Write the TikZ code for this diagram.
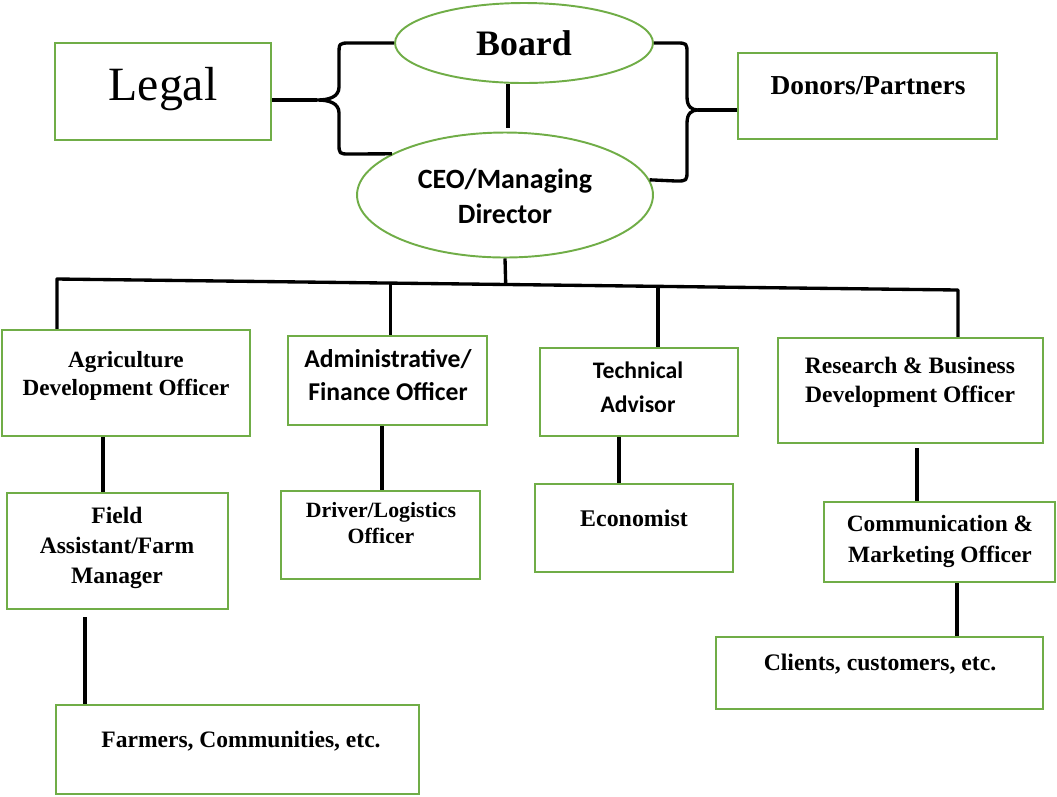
\documentclass[tikz,border=0pt]{standalone}
\usepackage{fontspec}
\setmainfont{Liberation Serif}
\newfontfamily\calfont{Carlito}
\usetikzlibrary{fit,calc,shapes.geometric}
\definecolor{boxgreen}{RGB}{112,173,71}
\begin{document}
\begin{tikzpicture}[x=0.02cm,y=-0.02cm,
  box/.style={draw=boxgreen,line width=1.3pt,inner sep=0pt},
  oval/.style={ellipse,draw=boxgreen,line width=1.1pt,inner sep=0pt,align=center},
  conn/.style={line width=1.9pt,line join=round},
  lbl/.style={align=center,anchor=base,inner sep=0pt}]
\useasboundingbox (0,0) rectangle (1057,796);
% top level
\node[box,fit={(55,43)(271,140)}] (legal) {};
\node[lbl,font=\fontsize{27.2}{30}\selectfont] (legalt) at (163,100) {Legal};
\node[box,fit={(738,53)(997,139)}] (donors) {};
\node[lbl,font=\bfseries\fontsize{15.6}{18}\selectfont] (donorst) at (868,94) {Donors/Partners};
\node[oval,minimum width=5.16cm,minimum height=1.6cm,font=\bfseries\fontsize{20.4}{24}\selectfont] (board) at (524,43) {Board};
\node[oval,minimum width=5.92cm,minimum height=2.5cm] (ceo) at (505,195) {};
\node[lbl,font=\calfont\bfseries\fontsize{15.9}{19.8}\selectfont] (ceot) at (505,223) {CEO/Managing\\Director};
% second level
\node[box,fit={(2,330)(250,436)}] (agri) {};
\node[lbl,font=\bfseries\fontsize{13.2}{15.9}\selectfont] (agrit) at (126,395) {Agriculture\\Development Officer};
\node[box,fit={(288,336)(487,425)}] (admin) {};
\node[lbl,font=\calfont\bfseries\fontsize{14.6}{18.7}\selectfont] (admint) at (388,400) {Administrative/\\Finance Officer};
\node[box,fit={(540,348)(738,436)}] (tech) {};
\node[lbl,font=\calfont\bfseries\fontsize{13.5}{19.3}\selectfont] (techt) at (638,412) {Technical\\Advisor};
\node[box,fit={(778,338)(1043,443)}] (research) {};
\node[lbl,font=\bfseries\fontsize{13.4}{16.4}\selectfont] (researcht) at (910,402) {Research \& Business\\Development Officer};
% third level
\node[box,fit={(7,493)(228,609)}] (field) {};
\node[lbl,font=\bfseries\fontsize{13.4}{17}\selectfont] (fieldt) at (117,583) {Field\\Assistant/Farm\\Manager};
\node[box,fit={(281,491)(480,579)}] (driver) {};
\node[lbl,font=\bfseries\fontsize{12.4}{14.7}\selectfont] (drivert) at (381,543) {Driver/Logistics\\Officer};
\node[box,fit={(535,484)(733,572)}] (econ) {};
\node[lbl,font=\bfseries\fontsize{13.6}{16}\selectfont] (econt) at (634,526) {Economist};
\node[box,fit={(824,502)(1055,582)}] (comm) {};
\node[lbl,font=\bfseries\fontsize{13.3}{17.6}\selectfont] (commt) at (940,562) {Communication \&\\Marketing Officer};
% fourth level
\node[box,fit={(716,637)(1043,709)}] (clients) {};
\node[lbl,font=\bfseries\fontsize{13.5}{16}\selectfont] (clientst) at (880,670) {Clients, customers, etc.};
\node[box,fit={(56,705)(419,794)}] (farmers) {};
\node[lbl,font=\bfseries\fontsize{13.4}{15}\selectfont] (farmerst) at (241,747) {Farmers, Communities, etc.};
% braces
\coordinate (lc) at (317,100);
\coordinate (rc) at (698,110);
\draw[conn] (board.west) -- (350,43) .. controls (339,43) .. (339,55) -- (339,87) .. controls (339,97) and (329,100) .. (lc) .. controls (329,100) and (339,103) .. (339,113) -- (339,143) .. controls (339,154) .. (350,154) -- (ceo.160);
\draw[conn] (legal.east |- lc) -- (lc);
\draw[conn] (board.east) -- (676,43) .. controls (687,43) .. (687,54) -- (687,97) .. controls (687,107) and (692,110) .. (rc) .. controls (692,110) and (687,113) .. (687,123) -- (687,170) .. controls (687,181) .. (676,181) -- (ceo.6);
\draw[conn] (rc) -- (rc -| donors.west);
\draw[conn,shorten >=0.08cm] (508,0 |- board.south) -- (508,0 |- ceo.north);
% bus
\coordinate (bl) at (57,279);
\coordinate (br) at (958,290);
\draw[conn] (bl |- agri.north) -- (bl) -- (br) -- (br |- research.north);
\draw[conn] ($(bl)!0.37!(br)$) coordinate (p2) -- (p2 |- admin.north);
\draw[conn] ($(bl)!0.667!(br)$) coordinate (p3) -- (p3 |- tech.north);
\draw[conn] (ceo.south) -- ($(bl)!0.498!(br)$);
% vertical links
\draw[conn] (103,0 |- agri.south) -- (103,0 |- field.north);
\draw[conn] (382,0 |- admin.south) -- (382,0 |- driver.north);
\draw[conn] (619,0 |- tech.south) -- (619,0 |- econ.north);
\draw[conn,shorten <=0.08cm] (917,0 |- research.south) -- (917,0 |- comm.north);
\draw[conn] (957,0 |- comm.south) -- (957,0 |- clients.north);
\draw[conn,shorten <=0.14cm] (85,0 |- field.south) -- (85,0 |- farmers.north);
\end{tikzpicture}
\end{document}
